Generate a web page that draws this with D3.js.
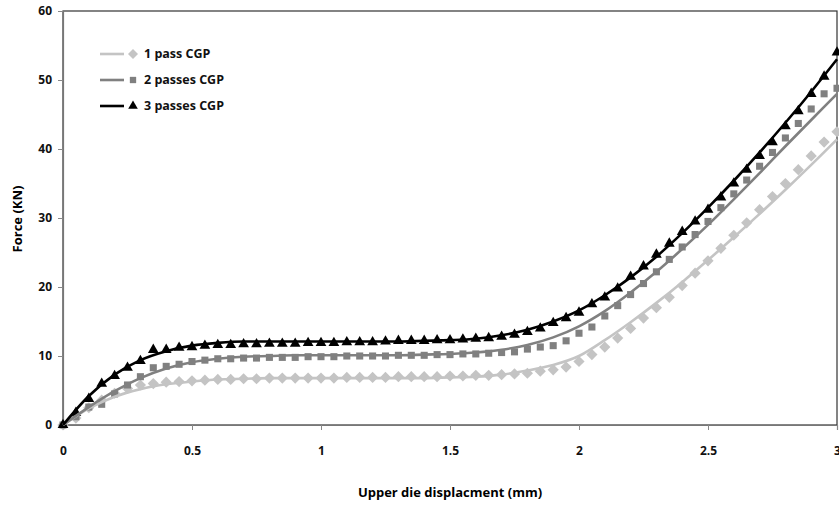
<!DOCTYPE html>
<html>
<head>
<meta charset="utf-8">
<script src="https://cdn.jsdelivr.net/npm/d3@7"></script>
<style>
  body { margin: 0; background: #fff; }
  text { font-family: "Open Sans", "DejaVu Sans", sans-serif; font-weight: bold; }
</style>
</head>
<body>
<div id="chart"></div>
<script>
// measured points, every 0.05 mm
const dispPts = d3.range(61).map(i => +(i * 0.05).toFixed(2));
const pass1Pts = [0, 1.0, 2.5, 3.6, 4.6, 5.3, 5.8, 6.0, 6.2, 6.3,
  6.4, 6.5, 6.6, 6.6, 6.7, 6.7, 6.8, 6.8, 6.8, 6.8,
  6.8, 6.8, 6.9, 6.9, 6.9, 6.9, 7.0, 7.0, 7.0, 7.0,
  7.1, 7.1, 7.2, 7.2, 7.3, 7.4, 7.5, 7.8, 8.0, 8.4,
  9.2, 10.2, 11.3, 12.6, 14.0, 15.5, 17.0, 18.5, 20.2, 22.0,
  23.8, 25.6, 27.5, 29.3, 31.2, 33.1, 35.0, 37.0, 39.0, 41.0, 42.5];
const pass2Pts = [0, 1.2, 2.6, 3.0, 4.5, 5.8, 7.0, 8.3, 8.5, 8.8,
  9.2, 9.4, 9.6, 9.6, 9.7, 9.7, 9.8, 9.8, 9.8, 9.9,
  9.9, 9.9, 10.0, 10.0, 10.0, 10.0, 10.1, 10.1, 10.1, 10.2,
  10.2, 10.3, 10.3, 10.4, 10.5, 10.6, 11.0, 11.3, 11.5, 12.2,
  13.3, 14.2, 15.8, 17.3, 18.9, 20.5, 22.2, 24.0, 25.8, 27.6,
  29.5, 31.5, 33.5, 35.5, 37.5, 39.5, 41.6, 43.7, 45.8, 48.0, 48.8];
const pass3Pts = [0, 1.8, 3.8, 6.0, 7.1, 8.3, 9.3, 10.9, 10.9, 11.2,
  11.3, 11.5, 11.6, 11.6, 11.7, 11.7, 11.8, 11.8, 11.8, 11.9,
  11.9, 11.9, 12.0, 12.0, 12.0, 12.1, 12.2, 12.2, 12.2, 12.3,
  12.3, 12.4, 12.5, 12.6, 12.8, 13.1, 13.5, 14.0, 14.8, 15.5,
  16.3, 17.5, 18.5, 19.8, 21.5, 23.0, 24.7, 26.3, 28.0, 29.5,
  31.2, 33.0, 35.0, 37.0, 39.0, 41.0, 43.3, 45.5, 48.0, 50.5, 54.0];

// fitted curves, every 0.1 mm
const dispFit = d3.range(31).map(i => +(i * 0.1).toFixed(1));
const pass1Fit = [0, 2.4, 4.1, 5.2, 5.9, 6.3, 6.6, 6.7, 6.8, 6.8,
  6.8, 6.8, 6.8, 6.8, 6.8, 6.9, 7.0, 7.3, 7.9, 8.7,
  10.0, 12.3, 14.9, 17.7, 20.7, 23.9, 27.2, 30.6, 34.1, 37.7, 41.4];
const pass2Fit = [0, 2.6, 4.9, 6.8, 8.2, 9.1, 9.6, 9.9, 10.0, 10.1,
  10.1, 10.1, 10.1, 10.1, 10.2, 10.3, 10.5, 10.9, 11.6, 12.7,
  14.3, 16.5, 19.2, 22.2, 25.5, 29.0, 32.7, 36.5, 40.4, 44.2, 48.0];
const pass3Fit = [0, 4.2, 7.3, 9.4, 10.7, 11.5, 11.9, 12.1, 12.1, 12.1,
  12.1, 12.1, 12.1, 12.1, 12.2, 12.3, 12.5, 13.0, 13.8, 15.0,
  16.6, 18.8, 21.4, 24.4, 27.8, 31.5, 35.4, 39.5, 43.8, 48.3, 53.0];

const seriesNames = ['1 pass CGP', '2 passes CGP', '3 passes CGP'];
const xTicks = [0, 0.5, 1, 1.5, 2, 2.5, 3];
const yTicks = [0, 10, 20, 30, 40, 50, 60];

const width = 839, height = 505;
const margin = {top: 11, right: 2, bottom: 80, left: 63};
const cWidth = width - margin.left - margin.right;
const cHeight = height - margin.top - margin.bottom;

const svg = d3.select('#chart').append('svg')
  .attr('width', width).attr('height', height);
const g = svg.append('g').attr('transform', `translate(${margin.left},${margin.top})`);

const x = d3.scaleLinear().domain([0, 3]).range([0, cWidth]);
const y = d3.scaleLinear().domain([0, 60]).range([cHeight, 0]);

const styles = [
  {color: '#c4c4c4', shape: d3.symbolDiamond2, size: 80},
  {color: '#808080', shape: d3.symbolSquare, size: 50},
  {color: '#000000', shape: d3.symbolTriangle, size: 50}
];
const points = [pass1Pts, pass2Pts, pass3Pts];
const fits = [pass1Fit, pass2Fit, pass3Fit];

// frame
g.append('rect')
  .attr('width', cWidth).attr('height', cHeight)
  .attr('fill', 'none').attr('stroke', '#333').attr('stroke-width', 1.2);

// axes
const xAxis = g.append('g')
  .attr('transform', `translate(0,${cHeight})`)
  .call(d3.axisBottom(x).tickValues(xTicks).tickFormat(d => d).tickSize(5).tickPadding(16));
const yAxis = g.append('g')
  .call(d3.axisLeft(y).tickValues(yTicks).tickSize(5).tickPadding(6));
[xAxis, yAxis].forEach(a => {
  a.select('.domain').attr('stroke', '#777').attr('stroke-width', 1.2);
  a.selectAll('.tick line').attr('stroke', '#888');
  a.selectAll('.tick text').attr('fill', '#111').style('font-size', '12px')
    .style('font-family', '"Open Sans", sans-serif').style('font-weight', 'bold');
});

// markers first, then fitted lines over them
points.forEach((vals, k) => {
  g.append('g').selectAll('path')
    .data(vals.map((v, i) => ({x: dispPts[i], y: v})))
    .enter().append('path')
    .attr('transform', d => `translate(${x(d.x)},${y(d.y)})`)
    .attr('d', d3.symbol().type(styles[k].shape).size(styles[k].size))
    .attr('fill', styles[k].color);
});

const line = d3.line().curve(d3.curveMonotoneX)
  .x((d, i) => x(dispFit[i]))
  .y(d => y(d));
fits.forEach((vals, k) => {
  g.append('path')
    .attr('d', line(vals))
    .attr('fill', 'none')
    .attr('stroke', styles[k].color)
    .attr('stroke-width', 2.6);
});

// axis titles
svg.append('text')
  .attr('x', 450).attr('y', 497)
  .attr('text-anchor', 'middle')
  .style('font-size', '13px')
  .text('Upper die displacment (mm)');
svg.append('text')
  .attr('transform', 'translate(22,219) rotate(-90)')
  .attr('text-anchor', 'middle')
  .style('font-size', '13px')
  .text('Force (KN)');

// legend
const legend = svg.selectAll('.legend')
  .data(seriesNames)
  .enter().append('g')
  .attr('class', 'legend')
  .attr('transform', (d, i) => `translate(100,${54 + i * 26})`);
legend.append('line')
  .attr('x1', 0).attr('x2', 24)
  .attr('stroke', (d, i) => styles[i].color)
  .attr('stroke-width', 2.6);
legend.append('path')
  .attr('transform', 'translate(33,0)')
  .attr('d', (d, i) => d3.symbol().type(styles[i].shape).size(styles[i].size * 0.8)())
  .attr('fill', (d, i) => styles[i].color);
legend.append('text')
  .attr('x', 44).attr('dy', '0.35em')
  .style('font-size', '12.5px')
  .attr('fill', '#111')
  .text(d => d);
</script>
</body>
</html>
